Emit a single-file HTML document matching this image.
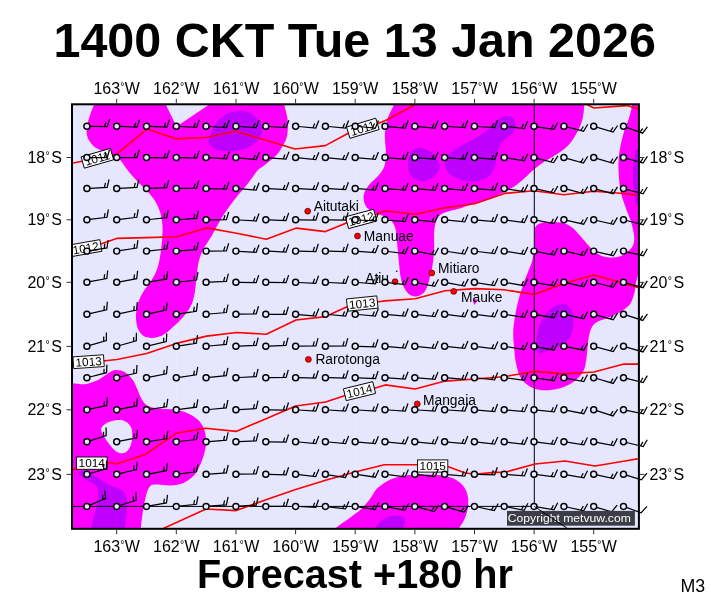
<!DOCTYPE html>
<html lang="en"><head><meta charset="utf-8"><title>1400 CKT Tue 13 Jan 2026 - Forecast +180 hr</title>
<style>html,body{margin:0;padding:0;background:#fff}body{width:711px;height:600px;overflow:hidden}svg{display:block}text{font-family:"Liberation Sans",Arial,Helvetica,sans-serif;fill:#000}.t{font-weight:bold}.ax{font-size:16px}.is{font-size:13.8px}.cl{font-size:11.8px}</style></head><body>
<svg width="711" height="600" viewBox="0 0 711 600">
<rect width="711" height="600" fill="#fff"/>
<defs><clipPath id="c"><rect x="72" y="104.3" width="566.9" height="424.5"/></clipPath></defs>
<text class="t" x="354.7" y="57" font-size="48.8" text-anchor="middle" textLength="602.5" lengthAdjust="spacingAndGlyphs">1400 CKT Tue 13 Jan 2026</text>
<text class="t" x="354.9" y="587.6" font-size="39.8" text-anchor="middle" textLength="316" lengthAdjust="spacingAndGlyphs">Forecast +180 hr</text>
<text x="680.5" y="591.7" font-size="17.8">M3</text>
<g clip-path="url(#c)">
<rect x="72" y="104.3" width="566.9" height="424.5" fill="#e6e6ff"/>
<path d="M176.3 104.3V528.8" stroke="#efefff" stroke-width="0.7"/>
<path d="M355.2 104.3V528.8" stroke="#efefff" stroke-width="0.7"/>
<path d="M94.8 100L165.6 100L165.9 104.8L176.5 126.5L208.9 104.8L209.2 100L284.4 100C284.4 100 283.8 101.7 284.4 105C284.9 108.3 287.2 115 287.7 120C288.2 125 287.9 130.9 287.2 135C286.5 139.1 285.2 141.5 283.4 144.8C281.6 148.1 279.7 151.6 276.6 155C273.5 158.4 268 162.3 264.8 165C261.6 167.7 260.3 167.5 257.2 171C254.1 174.5 249.5 181.5 246.1 185.8C242.7 190.1 239.8 192.9 236.6 196.9C233.4 200.9 230.1 205.4 227.2 209.6C224.3 213.8 221.8 217.7 219.2 222.2C216.5 226.7 213.9 232 211.3 236.5C208.7 241 205.5 244.9 203.4 249.1C201.3 253.3 199.8 257.1 198.7 261.8C197.5 266.6 197.2 272.3 196.5 277.6C195.8 282.9 195.5 288.6 194.6 293.4C193.7 298.1 192.8 302.1 190.8 306.1C188.9 310.1 185.8 313.8 182.9 317.2C180 320.6 176.6 323.7 173.4 326.6C170.2 329.5 167.1 332.8 163.9 334.6C160.7 336.5 157.6 337.3 154.4 337.7C151.2 338.1 147.6 338.1 144.9 336.8C142.2 335.5 140 332.8 138.5 329.8C137 326.8 136.2 322.9 136 318.7C135.8 314.5 136.4 309 137.6 304.5C138.8 300 141 295.8 143.3 291.8C145.6 287.9 148.8 284.8 151.2 280.8C153.6 276.9 155.9 272.9 157.5 268.1C159.1 263.4 159.9 257.6 160.7 252.3C161.5 247 162 241.2 162.3 236.5C162.6 231.8 162.7 228 162.3 223.8C161.9 219.6 161 215.1 159.7 211.1C158.4 207.1 156.6 203.4 154.4 200C152.2 196.6 149.4 193.8 146.5 190.6C143.6 187.4 140.2 184.4 137 181C133.8 177.6 130.2 173.3 127.5 170C124.8 166.7 122.8 163.1 121 161C119.2 158.9 118.7 158.8 116.5 157.5C114.3 156.2 111 154.9 108 153.5C105 152.1 100.8 150.5 98.5 149.3C96.2 148.1 95.4 147.7 94 146.5C92.6 145.3 91.2 143.7 90.1 142C89 140.3 87.9 138.7 87.3 136.4C86.7 134.2 86.4 131.7 86.7 128.5C87 125.3 88 121.4 89.3 117.3C90.5 113.2 93.3 106.9 94.2 104C95.1 101.1 94.8 100 94.8 100Z" fill="#ff00ff"/>
<path d="M66 383.2C66 383.2 69.5 383 72.7 383.2C75.9 383.4 81.1 384.7 85.3 384.2C89.5 383.7 94.3 381.8 98 380C101.7 378.2 104.6 375.4 107.5 373.7C110.4 372 112.5 370.2 115.4 370C118.3 369.8 122 370.5 124.9 372.2C127.8 373.9 130.7 377.1 132.8 380C134.9 382.9 136 386.4 137.5 389.6C139 392.8 140 396.4 141.6 399C143.2 401.6 144.2 403.8 147 405.4C149.8 407 153.6 407.8 158.1 408.5C162.6 409.2 169.2 408.8 173.9 409.5C178.7 410.2 182.6 411 186.6 412.7C190.6 414.4 194.8 416.9 197.7 419.6C200.6 422.3 202.6 425.4 204 429.1C205.4 432.8 206.2 437.6 206.2 441.8C206.2 446 205.2 450.2 204 454.4C202.8 458.6 201 463.4 199.2 467.1C197.3 470.8 195.5 474 192.9 476.6C190.3 479.2 187.1 481.4 183.4 482.9C179.7 484.4 175 485.1 170.8 485.4C166.6 485.7 161.5 484.4 158.1 484.5C154.7 484.6 152.2 484.2 150.2 486.1C148.2 488 147.3 491.4 146.1 495.6C144.9 499.8 143.8 505.9 142.9 511.4C142 516.9 141.1 525 140.7 528.8C140.3 532.6 140.5 534 140.5 534L66 534L66 383.2Z" fill="#ff00ff"/>
<path d="M393.8 100C393.8 100 394.9 101.5 393.8 104.7C392.8 107.9 389 114 387.5 119C386 124 385.2 129 384.9 134.8C384.6 140.6 386 148.5 385.9 153.8C385.8 159.1 385.6 162.8 384.3 166.5C383 170.2 380.6 172.8 378 176C375.4 179.2 370.9 182.2 368.5 185.4C366.1 188.6 364.3 191.8 363.7 195C363.1 198.2 364 202 365 204.5C366 207 367.7 208.5 369.5 210C371.3 211.5 373.4 212.4 376 213.5C378.6 214.6 382.5 215.3 385 216.5C387.5 217.7 389.4 218.9 391 220.5C392.6 222.1 393.6 223.8 394.5 226C395.4 228.2 395.8 229.9 396.3 233.8C396.8 237.7 397.2 244.3 397.7 249.6C398.2 254.9 398.7 260.6 399.2 265.4C399.7 270.1 400 274.4 400.8 278.1C401.6 281.8 402.7 285 404 287.6C405.3 290.2 406.8 292.4 408.7 293.9C410.6 295.4 413 296.4 415.1 296.5C417.2 296.6 419.6 295.8 421.4 294.6C423.2 293.4 424.8 291.7 426.1 289.2C427.4 286.7 428.2 283.7 429.3 279.7C430.4 275.7 431.7 270.4 432.5 265.4C433.3 260.4 433.8 254.9 434.1 249.6C434.4 244.3 433.9 238.3 434.1 233.8C434.4 229.3 434.6 225.9 435.6 222.7C436.7 219.5 438 216.8 440.4 214.8C442.8 212.9 446.6 212.1 449.9 211C453.2 209.9 457.2 209.3 460 208.5C462.8 207.7 462.9 207.2 466.6 206C470.3 204.8 477.1 203.2 482.4 201.3C487.7 199.5 493.4 197 498.2 194.9C502.9 192.8 506.9 191 510.9 188.6C514.9 186.2 518.6 183.3 522 180.5C525.4 177.7 528.2 174.5 531 172C533.8 169.5 536.3 167.5 539 165.5C541.7 163.5 543.9 162 547 160.1C550.1 158.2 553.8 156.4 557.5 153.8C561.2 151.2 566 148 569.3 144.3C572.6 140.6 575.3 135.8 577.5 131.6C579.7 127.4 581.4 123.5 582.5 119C583.6 114.5 584.1 107.9 584.4 104.7C584.7 101.5 584.4 100 584.4 100L393.8 100Z" fill="#ff00ff"/>
<path d="M631.9 100C631.9 100 632.4 103.1 631.9 106.3C631.4 109.5 630 114.8 628.7 119C627.4 123.2 625.6 125.8 624 131.6C622.4 137.4 620.1 146.9 619.2 153.8C618.3 160.7 618.3 166.5 618.6 172.8C618.9 179.1 619.6 186 620.8 191.8C622 197.6 623.9 202.4 625.6 207.6C627.4 212.8 629.9 218.1 631.3 222.7C632.7 227.3 633.6 231.8 634 235.3C634.4 238.8 634.2 241.5 633.5 243.9C632.8 246.3 631.5 248 629.8 249.8C628 251.6 625.7 253.6 623 254.9C620.3 256.2 617 257.1 613.8 257.4C610.6 257.7 606.4 257.2 603.6 256.5C600.8 255.8 599.1 254.7 596.9 253.2C594.6 251.7 592.2 249.4 590.1 247.3C588 245.2 586.2 242.8 584.2 240.5C582.2 238.2 580.3 235.9 578.3 233.8C576.3 231.7 574.6 229.5 572.4 227.8C570.1 226.1 567.8 224.6 564.8 223.6C561.8 222.6 558.1 222.1 554.7 221.9C551.3 221.7 547.4 221.9 544.6 222.3C541.8 222.7 539.5 223.5 537.8 224.5C536.1 225.5 534.6 228.5 534.6 228.5C534.6 228.5 534.6 233.2 534.5 236C534.4 238.8 534.6 240.9 534.2 245C533.8 249.1 533.3 255.9 532.2 260.6C531.1 265.3 529.1 269.1 527.5 273.3C525.9 277.5 524.3 281.1 522.7 285.9C521.1 290.6 519.3 296.5 518 301.8C516.7 307.1 515.6 312.3 514.8 317.6C514 322.9 513.3 328.1 513.2 333.4C513.1 338.7 513.7 343.9 514.2 349.2C514.7 354.5 515.2 360.2 516.4 365.1C517.5 370 518.7 374.9 521.1 378.5C523.5 382.1 526.9 385 530.6 387C534.3 389 538.5 390.1 543.3 390.3C548 390.6 554.5 389.6 559.1 388.5C563.7 387.4 567.6 385.5 571 383.5C574.4 381.5 577.3 378.9 579.5 376.5C581.7 374.1 583.1 372.2 584.3 369C585.5 365.8 586 361.5 586.6 357.5C587.2 353.5 587.4 348.8 587.8 345C588.2 341.2 588.5 338 589.2 335C589.9 332 590.7 329.2 592 327C593.3 324.8 594.2 323.6 597 322C599.8 320.4 604.9 319.3 609 317.5C613.1 315.7 618 313.6 621.5 311.3C625 309 628.1 307 630.3 303.8C632.5 300.6 633.6 295.5 634.6 292C635.6 288.5 635.4 285.8 636 283C636.6 280.2 638 275.5 638 275.5L645 275.5L645 100L631.9 100Z" fill="#ff00ff"/>
<path d="M335.8 534C335.8 534 333.7 530.8 335.8 528.2C337.9 525.7 344.3 521.9 348.5 518.7C352.7 515.5 357.4 512.6 361.1 509.2C364.8 505.8 368 501.5 370.6 498.1C373.2 494.7 374.1 491.5 377 488.6C379.9 485.7 383.8 482.8 388 480.7C392.2 478.6 396.8 476.9 402.3 475.9C407.9 474.8 415 474.5 421.3 474.4C427.6 474.3 434.8 474.5 440.3 475.3C445.8 476.1 450.6 477.2 454.5 479.1C458.4 481.1 461.7 483.8 464 487C466.3 490.2 467.6 494.1 468.1 498.1C468.6 502.1 467.9 507.1 467.2 510.8C466.5 514.5 465.3 517.4 464 520.3C462.7 523.2 460 525.9 459.2 528.2C458.4 530.5 459 534 459 534L335.8 534Z" fill="#ff00ff"/>
<path d="M101.1 429.1C101.4 426.8 103.5 424.9 105.9 423.4C108.3 421.9 112.2 420.7 115.4 420.3C118.6 419.9 122.3 420 124.9 421.2C127.5 422.4 130 424.9 131.2 427.5C132.4 430.1 132.3 433.8 132.2 437C132 440.2 131.5 443.9 130.3 446.5C129.1 449.1 127.1 451.9 124.9 452.8C122.7 453.7 119.5 453.2 117 451.9C114.5 450.6 112.1 447.4 110 444.9C107.9 442.4 105.8 439.6 104.3 437C102.8 434.4 100.8 431.4 101.1 429.1Z" fill="#e6e6ff"/>
<path d="M472.9 299.3H476.8L476.4 302L474.7 305L473.1 302Z" fill="#ff00ff"/>
<path d="M208.7 140.6C209 138.5 210.1 135.2 211.5 132.1C212.9 129 214.5 125.3 217.1 122.3C219.7 119.2 223 115.7 227 113.8C231 111.9 237.2 111.1 241 111C244.8 110.9 247.4 111.8 250 113C252.6 114.2 254.7 116.2 256.5 118C258.3 119.8 260.1 122.1 261 124C261.9 125.9 262.1 127.5 262.1 129.3C262.1 131.1 261.7 133.1 261 135C260.3 136.9 259.6 138.8 257.9 140.6C256.2 142.4 253.3 144.6 251 146C248.7 147.4 246.6 148.2 243.8 149C241 149.8 237.3 150.7 234 151C230.7 151.3 226.9 151.3 224.1 151.1C221.3 150.9 218.9 150.6 217 150C215.1 149.4 214.1 148.5 212.9 147.6C211.7 146.7 210.5 145.7 209.8 144.5C209.1 143.3 208.4 142.7 208.7 140.6Z" fill="#bf00ff"/>
<path d="M79.4 471.3C80.6 470.6 84.5 469.9 86.9 470.6C89.3 471.3 91.5 473.8 93.8 475.3C96.1 476.8 97.7 477.8 100.5 479.5C103.3 481.2 106.9 483.6 110.6 485.4C114.3 487.2 119.8 488.2 122.5 490.5C125.2 492.8 126 495 126.7 498.9C127.4 502.8 127 509.3 126.7 514.1C126.4 518.9 125.3 524.3 125 527.6C124.7 530.9 125 534 125 534L91 534C91 534 90.6 530.9 91.2 527.6C91.8 524.3 93.5 519.1 94.6 514.1C95.7 509.1 97.7 501.9 98 497.3C98.3 492.7 98.4 489.3 96.3 486.3C94.2 483.3 88 481.4 85.3 479.5C82.6 477.6 81 476.4 80 475C79 473.6 78.2 472 79.4 471.3Z" fill="#bf00ff"/>
<path d="M408 161.7C408.3 158.4 409.3 154.6 411.2 152.2C413.1 149.8 416.2 147.8 419.1 147.5C422 147.2 425.7 148.8 428.6 150.6C431.5 152.4 434.6 155.8 436.5 158.5C438.4 161.2 439.9 163.7 439.7 166.5C439.5 169.3 437.6 173 435.2 175.4C432.8 177.8 428.7 180.3 425.4 181C422.1 181.7 418.2 181 415.5 179.5C412.8 178 410.6 175.2 409.3 172.2C408.1 169.2 407.7 165 408 161.7Z" fill="#bf00ff"/>
<path d="M444.4 161.7C445 159.2 446.5 156.4 449.2 153.8C451.9 151.2 456.4 148.3 460.3 145.9C464.2 143.5 468.7 142 472.9 139.6C477.1 137.2 481.9 134.5 485.6 131.6C489.3 128.7 492.2 124.7 495.1 122.2C498 119.7 500.1 117.3 503 116.5C505.9 115.7 510.4 115.9 512.5 117.4C514.6 118.9 515.7 122.7 515.7 125.3C515.7 127.9 514.6 130.6 512.5 133.2C510.4 135.8 505.4 138.2 503 141.1C500.6 144 499.5 146.7 498.2 150.6C496.9 154.5 496.8 160.1 495.3 164.3C493.8 168.5 492.4 173.1 489.2 176C486 178.9 480.7 180.8 476.1 181.5C471.5 182.2 466.1 181.2 461.8 180C457.5 178.8 453 176.4 450.3 174.5C447.6 172.6 446.7 170.6 445.7 168.5C444.7 166.4 443.8 164.1 444.4 161.7Z" fill="#bf00ff"/>
<path d="M645 150C645 150 638.2 149.4 636.5 150C634.8 150.6 635.6 150 635 153.8C634.4 157.6 632.9 166.5 632.8 172.8C632.6 179.1 633.5 186.5 634.1 191.8C634.7 197.1 634.8 202 636.6 204.4C638.4 206.8 645 206 645 206L645 150Z" fill="#bf00ff"/>
<path d="M537 336.6C537.6 333.4 538.3 328.1 540.1 323.9C541.9 319.7 545.1 314.5 548 311.3C550.9 308.1 554.3 306 557.5 304.9C560.7 303.8 564.5 303.6 567 304.9C569.5 306.2 571.3 309.6 572.4 312.8C573.5 316 573.8 319.9 573.4 323.9C573 327.9 572.1 333.2 570.2 336.6C568.4 340 565.5 342.4 562.3 344.5C559.1 346.6 554.6 347.8 551.2 349.2C547.8 350.6 544.1 352.7 541.7 353C539.3 353.3 537.9 352.5 537 350.8C536.1 349.1 536.3 345.3 536.3 342.9C536.3 340.5 536.4 339.8 537 336.6Z" fill="#bf00ff"/>
<path d="M375.4 534C375.4 534 374.6 530.2 375.4 528.2C376.2 526.2 378 523.6 380.1 521.8C382.2 519.9 385.1 518.1 388 517.1C390.9 516.1 394.9 515.4 397.5 515.5C400.1 515.6 402.7 516.4 403.9 517.7C405.1 519 405 521.6 404.8 523.4C404.6 525.1 403.2 526.4 402.9 528.2C402.6 530 402.9 534 402.9 534L375.4 534Z" fill="#bf00ff"/>
<path d="M534.3 104.3V506.4" stroke="#000" stroke-width="1" fill="none"/>
<path d="M72 506.4H534.3" stroke="#000" stroke-width="1"/>
<path d="M71.5 163.4L116.5 154.4L146.9 129.1L176.4 138.9L206 137.5L235.5 131.3L265 140L295 149L325.3 145.6L347.3 133.8L378 123.6L386.1 120.3L414.8 104.7L416 103" fill="none" stroke="#ff0000" stroke-width="1.6" stroke-linejoin="round"/>
<path d="M584.5 103.3L594 108L626.5 105.6L640 109.2" fill="none" stroke="#ff0000" stroke-width="1.6" stroke-linejoin="round"/>
<path d="M71.5 251.5L101.5 243.8L116.6 238.4L146.5 237.6L176.5 236.8L206.6 227.9L236.6 233.3L266.3 239.2L296.4 228.1L325.5 231.6L347 222.7L374.6 214.8L385 211L415.1 214.2L445.1 207.8L474.5 203.8L504.6 193.4L533.8 190.8L563.9 194.8L593.9 191.3L624 193.5L639 195.8" fill="none" stroke="#ff0000" stroke-width="1.6" stroke-linejoin="round"/>
<path d="M71.5 363L102.7 361L117 359.5L146.5 353.5L176.5 343.4L206.6 336.1L236.6 332.5L266.3 334.3L296 320L325.6 316.6L347 306.8L378.4 301.8L385 300.9L415.1 298.7L445.1 290.8L475 288.6L503.7 289.7L534.4 294.5L563.9 283.4L593.9 274.9L624 283.4L639 287.8" fill="none" stroke="#ff0000" stroke-width="1.6" stroke-linejoin="round"/>
<path d="M71.5 470L106.8 462.3L116.3 463.9L145.4 454.4L176.5 433.2L205.6 428.2L236.1 431.4L266 418.7L295.7 406L325.6 402L344.5 395.7L375.2 387.9L385.3 384.9L415.1 389L445.1 381.1L475 379L503.7 376.8L534.4 371.4L563.9 373.9L593.9 372L624 364.1L639 364.1" fill="none" stroke="#ff0000" stroke-width="1.6" stroke-linejoin="round"/>
<path d="M160 530L206 509L236.1 510.6L266 499.7L295.7 489.5L325.6 480.3L355 472L384.4 464.7L417.7 464.7L447.7 466.4L464.6 472.7L474.4 474.3L494.1 472.4L505.1 472.2L535 464L565 461L595 466L625 461L639 458.6" fill="none" stroke="#ff0000" stroke-width="1.6" stroke-linejoin="round"/>
</g>
<circle cx="307.7" cy="211.2" r="2.95" fill="#ff0000" stroke="#400" stroke-width="0.7"/>
<text class="is" x="313.7" y="210.8">Aitutaki</text>
<circle cx="357.5" cy="236" r="2.95" fill="#ff0000" stroke="#400" stroke-width="0.7"/>
<text class="is" x="363.8" y="240.8">Manuae</text>
<circle cx="395.1" cy="281.7" r="2.95" fill="#ff0000" stroke="#400" stroke-width="0.7"/>
<text class="is" x="365.2" y="282.5">Atiu</text>
<circle cx="431.8" cy="273" r="2.95" fill="#ff0000" stroke="#400" stroke-width="0.7"/>
<text class="is" x="438.1" y="273">Mitiaro</text>
<circle cx="453.7" cy="291.4" r="2.95" fill="#ff0000" stroke="#400" stroke-width="0.7"/>
<text class="is" x="461" y="301.7">Mauke</text>
<circle cx="308.4" cy="359.4" r="2.95" fill="#ff0000" stroke="#400" stroke-width="0.7"/>
<text class="is" x="315.4" y="363.5">Rarotonga</text>
<circle cx="417.3" cy="403.9" r="2.95" fill="#ff0000" stroke="#400" stroke-width="0.7"/>
<text class="is" x="423" y="404.5">Mangaia</text>
<circle cx="396.7" cy="271.2" r="0.8" fill="#000"/>
<g clip-path="url(#c)">
<g transform="translate(97.3 158.3) rotate(-16)"><rect x="-15.2" y="-5.9" width="30.5" height="11.8" fill="#fff" stroke="#000" stroke-width="0.9"/><text class="cl" x="0" y="4.2" text-anchor="middle">1011</text></g>
<g transform="translate(362.8 128.3) rotate(-16.8)"><rect x="-15.2" y="-5.9" width="30.5" height="11.8" fill="#fff" stroke="#000" stroke-width="0.9"/><text class="cl" x="0" y="4.2" text-anchor="middle">1011</text></g>
<g transform="translate(85.8 248.1) rotate(-10)"><rect x="-15.2" y="-5.9" width="30.5" height="11.8" fill="#fff" stroke="#000" stroke-width="0.9"/><text class="cl" x="0" y="4.2" text-anchor="middle">1012</text></g>
<g transform="translate(361.1 218.9) rotate(-15)"><rect x="-14.6" y="-6.1" width="29.2" height="12.2" fill="#fff" stroke="#000" stroke-width="0.9"/><text class="cl" x="0" y="4.2" text-anchor="middle">1012</text></g>
<g transform="translate(88.6 361.7) rotate(-4)"><rect x="-15.3" y="-5.9" width="30.6" height="11.8" fill="#fff" stroke="#000" stroke-width="0.9"/><text class="cl" x="0" y="4.2" text-anchor="middle">1013</text></g>
<g transform="translate(362.2 303.6) rotate(-5.8)"><rect x="-15.2" y="-6.2" width="30.5" height="12.3" fill="#fff" stroke="#000" stroke-width="0.9"/><text class="cl" x="0" y="4.2" text-anchor="middle">1013</text></g>
<g transform="translate(91.7 463.2) rotate(0)"><rect x="-15.3" y="-6.2" width="30.7" height="12.3" fill="#fff" stroke="#000" stroke-width="0.9"/><text class="cl" x="0" y="4.2" text-anchor="middle">1014</text></g>
<g transform="translate(359.5 391.1) rotate(-13.8)"><rect x="-15.1" y="-6" width="30.2" height="12.1" fill="#fff" stroke="#000" stroke-width="0.9"/><text class="cl" x="0" y="4.2" text-anchor="middle">1014</text></g>
<g transform="translate(432.7 466) rotate(0)"><rect x="-15.1" y="-6.1" width="30.2" height="12.2" fill="#fff" stroke="#000" stroke-width="0.9"/><text class="cl" x="0" y="4.2" text-anchor="middle">1015</text></g>
</g>
<path d="M89.9 126.4L107.2 126.7L109.7 119.1M104.4 126.7L105.9 122.2M119.7 126.4L137 127.2L139.6 119.6M134.2 127L135.8 122.6M149.5 126.4L166.8 127.2L169.5 119.6M164 127.1L165.6 122.6M179.3 126.5L196.6 127.4L199.3 119.8M193.8 127.2L195.4 122.8M209.1 126.5L226.4 127.5L229.2 120M223.6 127.3L225.2 122.9M238.9 126.5L256.2 127.6L259 120.2M253.4 127.5L255.1 123.1M268.8 126.5L286 127.6L288.9 120.2M283.2 127.5L284.9 123.1M298.6 126.5L315.8 128L318.8 120.5M313 127.7L314.7 123.4M328.4 126.5L345.6 128L348.6 120.5M342.8 127.7L344.6 123.4M358.2 126.5L375.4 128L378.4 120.6M372.6 127.7L374.4 123.4M388 126.6L405.2 128L408.2 120.6M402.4 127.8L404.2 123.4M417.8 126.6L435 128L438 120.6M432.2 127.8L434 123.4M447.6 126.5L464.9 127.6L467.7 120.2M462.1 127.5L463.8 123.1M477.4 126.5L494.7 127.7L497.5 120.2M491.9 127.5L493.6 123.1M507.2 126.6L524.4 128.6L527.6 121.2M521.6 128.3L523.5 123.9M537 126.8L554.1 129.4L557.6 122.2M551.3 129L553.4 124.7M566.8 127L583.6 131.2L587.7 124.3M580.8 130.5L583.3 126.5M596.5 127.2L613.1 132.1L617.6 125.5M610.4 131.3L613 127.4M626.3 127.3L642.6 133.2L647.4 126.9M639.9 132.3L642.8 128.5M89.9 157.5L107.2 157.5L109.5 149.8M104.4 157.5L105.8 153M119.7 157.5L137 157.5L139.3 149.8M134.2 157.5L135.6 153M149.5 157.6L166.8 157.9L169.3 150.2M164 157.8L165.5 153.3M179.3 157.6L196.6 158.2L199.2 150.6M193.8 158.1L195.3 153.7M209.1 157.7L226.4 158.9L229.3 151.4M223.6 158.7L225.3 154.3M238.9 157.8L256.1 159.6L259.3 152.3M253.4 159.3L255.2 155M268.7 157.8L286 159.2L289 151.8M283.2 159L284.9 154.6M298.6 157.8L315.8 159.6L318.9 152.3M313 159.3L314.8 155M328.4 157.8L345.6 159.6L348.7 152.3M342.8 159.3L344.6 155M358.2 157.8L375.4 159.4L378.4 152M372.6 159.1L374.4 154.8M388 157.8L405.2 159.2L408.2 151.8M402.4 159L404.2 154.6M417.8 157.8L435 159.2L438 151.8M432.2 159L434 154.6M447.6 157.8L464.8 159.2L467.8 151.8M462.1 159L463.8 154.6M477.4 157.8L494.7 159.3L497.6 151.9M491.9 159L493.6 154.7M507.2 158L524.2 160.9L527.8 153.8M521.5 160.5L523.6 156.3M537 158.3L553.7 162.6L557.9 155.8M551 161.9L553.4 157.9M566.7 158.3L583.4 163L587.7 156.3M580.7 162.3L583.2 158.3M596.5 158.4L613.1 163.3L617.6 156.7M610.4 162.5L613 158.6M626.4 158.3L643 163.1L647.4 156.4M640.3 162.3L642.9 158.4M89.9 188.3L107.2 187.3L109 179.5M104.4 187.4L105.5 182.9M119.7 188.3L137 187.3L138.8 179.5M134.2 187.4L135.3 182.9M149.5 188.4L166.8 187.6L168.8 179.9M164 187.7L165.2 183.2M179.3 188.4L196.6 188.1L198.8 180.5M193.8 188.2L195.1 183.7M209.1 188.6L226.4 189.1L229 181.6M223.6 189.1L225.1 184.6M238.9 188.7L256.2 190.1L259.1 182.7M253.4 189.9L255.1 185.6M268.8 188.7L286 189.7L288.8 182.2M283.2 189.5L284.9 185.1M298.6 188.7L315.8 189.7L318.6 182.2M313 189.6L314.7 185.2M328.4 188.7L345.6 189.7L348.4 182.2M342.8 189.6L344.5 185.2M358.2 188.7L375.4 190L378.3 182.5M372.6 189.8L374.3 185.4M388 188.8L405.2 190.2L408.2 182.8M402.4 190L404.2 185.6M417.8 188.8L435 190.4L438.1 183M432.2 190.1L434 185.8M447.6 188.8L464.8 190.4L467.9 183M462 190.1L463.8 185.8M477.4 188.8L494.7 190.2L497.6 182.8M491.9 190L493.6 185.6M507.2 189L524.3 191.6L527.8 184.4M521.5 191.2L523.6 186.9M537 189.2L553.9 192.9L557.8 186M551.1 192.3L553.5 188.2M566.8 189.2L583.5 193.5L587.7 186.6M580.8 192.8L583.3 188.8M596.6 189.3L613.3 193.7L617.5 186.9M610.6 193L613.1 189M626.4 189.3L643.1 193.8L647.3 187M640.4 193L642.9 189M89.9 219.4L107 217.3L108.4 209.4M104.3 217.7L105.1 213M119.7 219.4L136.9 217.3L138.2 209.4M134.1 217.7L134.9 213M149.5 219.5L166.7 217.7L168.2 209.8M163.9 218L164.8 213.4M179.3 219.6L196.6 218.4L198.4 210.6M193.8 218.6L194.8 214M209.1 219.8L226.4 219.7L228.7 212M223.6 219.7L225 215.2M238.9 220L256.2 221L259 213.5M253.4 220.8L255.1 216.4M268.8 219.9L286 220.5L288.7 212.9M283.2 220.4L284.8 216M298.6 219.9L315.9 220.2L318.3 212.5M313.1 220.1L314.5 215.6M328.4 219.9L345.7 220.2L348.1 212.5M342.9 220.1L344.3 215.6M358.2 220L375.5 220.8L378.2 213.3M372.7 220.7L374.3 216.3M388 220.1L405.2 221.5L408.2 214.1M402.4 221.3L404.2 216.9M417.8 220.1L435 221.9L438.1 214.5M432.2 221.6L434 217.2M447.6 220.1L464.8 221.9L467.9 214.5M462 221.6L463.9 217.2M477.4 220.1L494.7 221.5L497.6 214.1M491.9 221.3L493.6 216.9M507.2 220.2L524.4 222.5L527.7 215.3M521.6 222.2L523.5 217.9M537 220.4L554 223.6L557.7 216.5M551.2 223L553.4 218.9M566.8 220.4L583.7 224.2L587.6 217.2M580.9 223.6L583.3 219.5M596.6 220.5L613.4 224.4L617.4 217.4M610.7 223.7L613.1 219.7M626.4 220.5L643.2 224.7L647.3 217.9M640.5 224L642.9 220M89.9 250.6L107 247.9L108.1 240M104.2 248.4L104.8 243.7M119.7 250.6L136.8 248L137.9 240.1M134 248.5L134.7 243.8M149.5 250.8L166.7 249L168.2 241.1M163.9 249.3L164.8 244.7M179.3 250.9L196.6 249.7L198.4 241.9M193.8 249.9L194.8 245.3M209.1 251.1L226.4 251L228.7 243.3M223.6 251L225 246.5M238.9 251.3L256.2 252.3L259 244.8M253.4 252.1L255.1 247.7M268.8 251.2L286 252L288.7 244.4M283.2 251.8L284.8 247.4M298.6 251.2L315.9 251.5L318.3 243.8M313.1 251.4L314.5 246.9M328.4 251.2L345.7 251.5L348.1 243.8M342.9 251.4L344.3 246.9M358.2 251.3L375.4 252.5L378.3 245.1M372.6 252.3L374.3 247.9M388 251.5L405.1 253.6L408.4 246.3M402.4 253.3L404.3 249M417.8 251.6L434.8 254.8L438.5 247.7M432 254.3L434.2 250.1M447.6 251.5L464.7 254L468.1 246.8M461.9 253.6L463.9 249.3M477.4 251.5L494.6 253.6L497.8 246.3M491.8 253.2L493.7 248.9M507.2 251.6L524.3 254.3L527.8 247.1M521.5 253.8L523.6 249.6M537 251.7L554 255L557.7 247.9M551.2 254.4L553.4 250.3M566.8 251.7L583.7 255.5L587.6 248.5M580.9 254.9L583.3 250.8M596.6 251.8L613.4 255.7L617.4 248.7M610.7 255L613.1 251M626.4 251.8L643.3 255.7L647.3 248.7M640.5 255L642.9 251M89.8 281.7L106.8 278.5L107.7 270.5M104.1 279L104.6 274.3M119.7 281.8L136.7 278.7L137.6 270.7M133.9 279.2L134.5 274.5M149.5 281.8L166.6 279.1L167.7 271.2M163.8 279.6L164.5 274.9M179.3 282L196.5 280L198 272.1M193.7 280.3L194.6 275.7M209.1 282.2L226.4 281.3L228.4 273.6M223.6 281.5L224.8 276.9M238.9 282.4L256.2 282.7L258.7 275.1M253.4 282.6L254.9 278.2M268.8 282.4L286.1 282.7L288.6 275.1M283.3 282.7L284.7 278.2M298.6 282.5L315.8 283.3L318.6 275.8M313 283.2L314.6 278.8M328.4 282.5L345.7 283.3L348.4 275.8M342.9 283.2L344.5 278.8M358.2 282.5L375.4 283.9L378.4 276.5M372.6 283.7L374.4 279.3M388 282.6L405.2 284.5L408.3 277.2M402.4 284.2L404.3 279.9M417.8 282.9L434.7 286.3L438.5 279.2M432 285.7L434.2 281.6M447.6 282.9L464.6 286L468.3 278.9M461.8 285.5L464 281.4M477.4 282.8L494.5 285.5L498 278.3M491.7 285L493.8 280.8M507.2 282.8L524.3 285.7L527.8 278.6M521.5 285.2L523.6 281M537 282.8L554 285.9L557.7 278.8M551.3 285.4L553.4 281.3M566.8 282.9L583.7 286.7L587.6 279.7M580.9 286.1L583.3 282M596.6 283L613.3 287.3L617.5 280.5M610.6 286.7L613.1 282.6M626.4 283.1L643.1 287.7L647.3 280.9M640.4 286.9L642.9 282.9M89.8 313.6L106.7 309.8L107.3 301.8M104 310.4L104.3 305.7M119.6 313.7L136.6 310.1L137.3 302.1M133.8 310.7L134.2 306M149.5 313.7L166.4 310.1L167.1 302.1M163.6 310.7L164 306M179.3 313.8L196.4 311.1L197.5 303.2M193.6 311.6L194.3 306.9M209.1 314L226.4 312.5L228 304.7M223.6 312.8L224.6 308.2M238.9 314.2L256.2 313.9L258.5 306.3M253.4 314L254.7 309.5M268.8 314.3L286.1 314.3L288.4 306.6M283.3 314.3L284.6 309.8M298.6 314.6L315.8 316L318.8 308.6M313 315.8L314.8 311.4M328.4 314.5L345.6 316L348.6 308.5M342.8 315.7L344.6 311.4M358.2 314.5L375.4 316L378.4 308.6M372.6 315.7L374.4 311.4M388 314.6L405.2 316L408.2 308.6M402.4 315.8L404.2 311.4M417.8 314.6L435 316.5L438.2 309.2M432.2 316.2L434.1 311.9M447.6 314.7L464.8 316.8L468 309.5M462 316.5L463.9 312.2M477.4 314.7L494.6 316.9L497.9 309.6M491.8 316.5L493.7 312.2M507.2 314.7L524.3 317.3L527.8 310.1M521.5 316.9L523.6 312.6M537 314.8L554.1 317.7L557.7 310.6M551.3 317.2L553.4 313M566.8 314.9L583.7 318.7L587.6 311.7M580.9 318.1L583.3 314M596.6 315.1L613.2 319.8L617.5 313.1M610.5 319.1L613.1 315.1M626.3 315.2L642.8 320.4L647.4 313.9M640.2 319.6L642.8 315.7M89.8 345.4L106.4 340.5L106.4 332.5M103.7 341.3L103.7 336.6M119.6 345.5L136.3 340.8L136.4 332.8M133.6 341.6L133.7 336.9M149.4 345.6L166.3 341.6L166.8 333.6M163.5 342.2L163.8 337.6M179.3 345.8L196.4 343.1L197.5 335.2M193.6 343.6L194.3 338.9M209.1 346L226.3 344.3L227.9 336.4M223.6 344.6L224.5 340M238.9 346.2L256.2 345.4L258.2 337.7M253.4 345.6L254.6 341M268.8 346.2L286 345.4L288.1 337.7M283.2 345.6L284.4 341M298.6 346.2L315.9 345.8L318 338.1M313.1 345.8L314.3 341.3M328.4 346.2L345.7 345.8L347.8 338.1M342.9 345.9L344.1 341.3M358.2 346.4L375.5 346.9L378 339.3M372.7 346.8L374.2 342.4M388 346.6L405.2 348L408.2 340.6M402.4 347.8L404.2 343.4M417.8 346.6L435 348.4L438.1 341M432.2 348.1L434 343.7M447.6 346.6L464.8 348.4L467.9 341M462 348.1L463.9 343.7M477.4 346.7L494.6 348.9L497.9 341.6M491.8 348.5L493.7 344.2M507.2 346.8L524.3 349.5L527.8 342.3M521.5 349.1L523.6 344.9M537 346.9L554 350.2L557.7 343.1M551.2 349.6L553.4 345.5M566.8 346.9L583.8 350.2L587.5 343.1M581 349.6L583.2 345.5M596.6 347.1L613.3 351.6L617.5 344.8M610.6 350.8L613.1 346.8M626.4 347.1L643 351.9L647.4 345.2M640.3 351.1L642.9 347.2M89.8 377L106.6 372.7L106.9 364.7M103.9 373.3L104.1 368.7M119.6 377L136.5 373L137 365M133.7 373.7L134 369M149.5 377.1L166.5 373.8L167.3 365.9M163.7 374.4L164.2 369.7M179.3 377.3L196.4 374.8L197.7 366.9M193.7 375.2L194.4 370.6M209.1 377.4L226.3 375.7L227.9 367.9M223.6 376L224.5 371.4M238.9 377.5L256.2 376.6L258.1 368.8M253.4 376.8L254.6 372.2M268.8 377.7L286.1 377.5L288.3 369.8M283.3 377.5L284.6 373M298.6 377.7L315.9 378L318.3 370.4M313.1 378L314.5 373.5M328.4 377.7L345.7 378L348.1 370.4M342.9 378L344.3 373.5M358.2 377.8L375.5 378.6L378.1 371M372.7 378.5L374.2 374M388 377.9L405.2 379.1L408.1 371.7M402.5 378.9L404.1 374.5M417.8 377.9L435 379.3L438 371.9M432.3 379.1L434 374.7M447.6 377.9L464.9 379.3L467.8 371.9M462.1 379.1L463.8 374.7M477.4 378L494.6 379.8L497.7 372.5M491.8 379.5L493.7 375.2M507.2 378.1L524.4 380.3L527.7 373M521.6 379.9L523.5 375.6M537 378.1L554.1 380.7L557.6 373.4M551.4 380.3L553.4 376M566.8 378.3L583.8 381.6L587.5 374.5M581 381L583.2 376.9M596.6 378.5L613.2 383.4L617.5 376.7M610.5 382.6L613 378.7M626.4 378.4L643.2 382.5L647.3 375.6M640.5 381.8L642.9 377.8M89.8 409.2L106.7 405.5L107.4 397.5M104 406.1L104.4 401.4M119.7 409.2L136.6 405.9L137.5 398M133.9 406.5L134.4 401.8M149.5 409.4L166.6 406.8L167.8 398.9M163.8 407.2L164.5 402.6M179.3 409.4L196.5 407.2L197.8 399.3M193.7 407.6L194.5 402.9M209.1 409.5L226.3 407.8L227.9 400M223.6 408.1L224.5 403.5M238.9 409.6L256.2 408.5L258 400.7M253.4 408.6L254.5 404.1M268.8 409.9L286.1 410.2L288.5 402.5M283.3 410.1L284.7 405.6M298.6 410L315.8 411L318.6 403.5M313 410.8L314.7 406.4M328.4 410L345.6 411L348.4 403.5M342.9 410.8L344.5 406.4M358.2 410L375.5 411L378.2 403.5M372.7 410.8L374.3 406.4M388 410L405.3 411L408 403.5M402.5 410.8L404.1 406.4M417.8 410L435.1 411L437.9 403.5M432.3 410.8L433.9 406.4M447.6 410L464.9 411L467.7 403.5M462.1 410.8L463.7 406.4M477.4 410.1L494.7 411.5L497.6 404.1M491.9 411.3L493.6 406.9M507.2 410.1L524.5 411.7L527.5 404.3M521.7 411.4L523.4 407.1M537 410.1L554.2 411.9L557.3 404.5M551.5 411.6L553.3 407.2M566.8 410.4L583.8 413.7L587.5 406.6M581 413.1L583.2 409M596.5 410.7L613 415.9L617.6 409.3M610.4 415.1L613 411.2M626.4 410.4L643.4 413.8L647.2 406.7M640.6 413.2L642.9 409.1M89.8 440.9L106.2 435.6L106.1 427.6M103.6 436.5L103.5 431.8M119.7 441.2L136.6 437.9L137.5 430M133.9 438.5L134.4 433.8M149.5 441.4L166.6 438.8L167.8 430.9M163.8 439.2L164.5 434.6M179.3 441.5L196.5 439.5L198 431.7M193.7 439.8L194.6 435.2M209.1 441.6L226.4 440.2L228.1 432.4M223.6 440.5L224.6 435.9M238.9 441.7L256.2 440.9L258.2 433.2M253.4 441.1L254.6 436.5M268.8 441.9L286.1 442.2L288.5 434.5M283.3 442.1L284.7 437.6M298.6 442L315.8 443.5L318.8 436M313 443.2L314.7 438.9M328.4 442L345.6 443.5L348.6 436M342.8 443.2L344.6 438.9M358.2 442.1L375.4 443.6L378.4 436.2M372.6 443.4L374.4 439M388 442.1L405.2 443.8L408.3 436.4M402.4 443.5L404.2 439.2M417.8 442.1L435 443.9L438.1 436.5M432.2 443.6L434 439.2M447.6 442.1L464.8 443.5L467.8 436.1M462.1 443.3L463.8 438.9M477.4 442.2L494.6 444.2L497.8 436.9M491.8 443.9L493.7 439.6M507.2 442.2L524.4 444.3L527.6 436.9M521.6 443.9L523.5 439.6M537 442.2L554.2 444.3L557.5 437M551.4 444L553.3 439.7M566.8 442.2L583.9 444.8L587.4 437.6M581.2 444.4L583.2 440.2M596.6 442.4L613.6 445.5L617.3 438.4M610.9 445L613 440.9M626.4 442.5L643.2 446.6L647.3 439.8M640.5 446L642.9 441.9M89.8 473.5L106.4 468.7L106.6 460.7M103.7 469.5L103.8 464.8M119.6 473.6L136.5 469.6L137 461.6M133.7 470.2L134 465.6M149.5 473.8L166.5 470.7L167.4 462.7M163.7 471.2L164.3 466.5M179.3 473.9L196.5 471.8L197.9 463.9M193.7 472.2L194.5 467.5M209.1 474.1L226.4 472.8L228.2 465M223.6 473L224.6 468.4M238.9 474.2L256.2 473.8L258.4 466.1M253.4 473.9L254.7 469.3M268.8 474.4L286.1 474.8L288.6 467.2M283.3 474.8L284.7 470.3M298.6 474.6L315.7 476.5L318.9 469.2M313 476.2L314.8 471.9M328.3 474.8L345.4 477.6L349 470.4M342.6 477.2L344.7 472.9M358.2 474.7L375.3 477.2L378.7 470M372.5 476.8L374.5 472.6M388 474.7L405.1 476.9L408.4 469.6M402.4 476.5L404.3 472.2M417.8 474.6L435 476.5L438.2 469.2M432.2 476.2L434.1 471.9M447.6 474.6L464.8 476L467.8 468.6M462.1 475.8L463.8 471.4M477.4 474.4L494.7 474.8L497.3 467.2M491.9 474.8L493.4 470.3M507.2 474.5L524.5 475.9L527.4 468.4M521.7 475.6L523.4 471.3M537 474.7L554.2 476.9L557.5 469.6M551.4 476.5L553.3 472.2M566.8 474.8L583.9 477.8L587.5 470.7M581.1 477.3L583.2 473.2M596.6 474.9L613.5 478.6L617.4 471.6M610.8 478L613.1 473.9M626.3 475.2L641.4 479.9L647 473.1M89.7 505.2L105.6 498.5L104.8 490.5M103 499.6L102.5 494.9M119.6 505.5L136.1 500.3L136 492.3M133.4 501.1L133.3 496.4M149.5 505.9L166.5 502.9L167.5 494.9M163.8 503.4L164.3 498.7M179.3 506.1L196.5 504.3L198 496.4M193.7 504.6L194.6 500M209.1 506.2L226.4 504.8L228.1 496.9M223.6 505L224.6 500.4M238.9 506.2L256.2 505.2L258.1 497.5M253.4 505.4L254.5 500.8M268.8 506.4L286.1 506.4L288.4 498.7M283.3 506.4L284.6 501.9M298.6 506.5L315.9 507.3L318.5 499.7M313.1 507.1L314.6 502.7M328.4 506.8L345.5 508.9L348.8 501.6M342.7 508.5L344.7 504.2M358.2 506.9L375.2 509.6L378.8 502.4M372.5 509.2L374.5 505M387.9 507L404.9 510.4L408.7 503.3M402.2 509.8L404.4 505.7M417.7 507.2L434.4 511.6L438.7 504.8M431.7 510.9L434.2 506.9M447.5 507.3L464.1 512.2L468.5 505.6M461.4 511.4L464 507.5M477.4 507L494.3 510.6L498.2 503.6M491.5 510L493.8 505.9M507.2 507L524.2 510.3L527.9 503.2M521.4 509.7L523.6 505.6M537 506.9L554 509.9L557.7 502.8M551.3 509.4L553.4 505.3M566.8 507L583.7 510.8L587.6 503.8M580.9 510.2L583.3 506.1M596.5 507.3L611.6 511.9L617.2 505.1M626.3 507.4L641.1 512.8L647 506.3" fill="none" stroke="#000" stroke-width="1.25" stroke-linejoin="miter"/>
<g fill="#e8e8ff" stroke="#000" stroke-width="1.45">
<circle cx="86.9" cy="126.3" r="3"/>
<circle cx="116.7" cy="126.3" r="3"/>
<circle cx="146.5" cy="126.3" r="3"/>
<circle cx="176.3" cy="126.3" r="3"/>
<circle cx="206.1" cy="126.3" r="3"/>
<circle cx="235.9" cy="126.3" r="3"/>
<circle cx="265.8" cy="126.3" r="3"/>
<circle cx="295.6" cy="126.3" r="3"/>
<circle cx="325.4" cy="126.3" r="3"/>
<circle cx="355.2" cy="126.3" r="3"/>
<circle cx="385" cy="126.3" r="3"/>
<circle cx="414.8" cy="126.3" r="3"/>
<circle cx="444.6" cy="126.3" r="3"/>
<circle cx="474.4" cy="126.3" r="3"/>
<circle cx="504.2" cy="126.3" r="3"/>
<circle cx="534" cy="126.3" r="3"/>
<circle cx="563.9" cy="126.3" r="3"/>
<circle cx="593.7" cy="126.3" r="3"/>
<circle cx="623.5" cy="126.3" r="3"/>
<circle cx="86.9" cy="157.5" r="3"/>
<circle cx="116.7" cy="157.5" r="3"/>
<circle cx="146.5" cy="157.5" r="3"/>
<circle cx="176.3" cy="157.5" r="3"/>
<circle cx="206.1" cy="157.5" r="3"/>
<circle cx="235.9" cy="157.5" r="3"/>
<circle cx="265.8" cy="157.5" r="3"/>
<circle cx="295.6" cy="157.5" r="3"/>
<circle cx="325.4" cy="157.5" r="3"/>
<circle cx="355.2" cy="157.5" r="3"/>
<circle cx="385" cy="157.5" r="3"/>
<circle cx="414.8" cy="157.5" r="3"/>
<circle cx="444.6" cy="157.5" r="3"/>
<circle cx="474.4" cy="157.5" r="3"/>
<circle cx="504.2" cy="157.5" r="3"/>
<circle cx="534" cy="157.5" r="3"/>
<circle cx="563.9" cy="157.5" r="3"/>
<circle cx="593.7" cy="157.5" r="3"/>
<circle cx="623.5" cy="157.5" r="3"/>
<circle cx="86.9" cy="188.5" r="3"/>
<circle cx="116.7" cy="188.5" r="3"/>
<circle cx="146.5" cy="188.5" r="3"/>
<circle cx="176.3" cy="188.5" r="3"/>
<circle cx="206.1" cy="188.5" r="3"/>
<circle cx="235.9" cy="188.5" r="3"/>
<circle cx="265.8" cy="188.5" r="3"/>
<circle cx="295.6" cy="188.5" r="3"/>
<circle cx="325.4" cy="188.5" r="3"/>
<circle cx="355.2" cy="188.5" r="3"/>
<circle cx="385" cy="188.5" r="3"/>
<circle cx="414.8" cy="188.5" r="3"/>
<circle cx="444.6" cy="188.5" r="3"/>
<circle cx="474.4" cy="188.5" r="3"/>
<circle cx="504.2" cy="188.5" r="3"/>
<circle cx="534" cy="188.5" r="3"/>
<circle cx="563.9" cy="188.5" r="3"/>
<circle cx="593.7" cy="188.5" r="3"/>
<circle cx="623.5" cy="188.5" r="3"/>
<circle cx="86.9" cy="219.8" r="3"/>
<circle cx="116.7" cy="219.8" r="3"/>
<circle cx="146.5" cy="219.8" r="3"/>
<circle cx="176.3" cy="219.8" r="3"/>
<circle cx="206.1" cy="219.8" r="3"/>
<circle cx="235.9" cy="219.8" r="3"/>
<circle cx="265.8" cy="219.8" r="3"/>
<circle cx="295.6" cy="219.8" r="3"/>
<circle cx="325.4" cy="219.8" r="3"/>
<circle cx="355.2" cy="219.8" r="3"/>
<circle cx="385" cy="219.8" r="3"/>
<circle cx="414.8" cy="219.8" r="3"/>
<circle cx="444.6" cy="219.8" r="3"/>
<circle cx="474.4" cy="219.8" r="3"/>
<circle cx="504.2" cy="219.8" r="3"/>
<circle cx="534" cy="219.8" r="3"/>
<circle cx="563.9" cy="219.8" r="3"/>
<circle cx="593.7" cy="219.8" r="3"/>
<circle cx="623.5" cy="219.8" r="3"/>
<circle cx="86.9" cy="251.1" r="3"/>
<circle cx="116.7" cy="251.1" r="3"/>
<circle cx="146.5" cy="251.1" r="3"/>
<circle cx="176.3" cy="251.1" r="3"/>
<circle cx="206.1" cy="251.1" r="3"/>
<circle cx="235.9" cy="251.1" r="3"/>
<circle cx="265.8" cy="251.1" r="3"/>
<circle cx="295.6" cy="251.1" r="3"/>
<circle cx="325.4" cy="251.1" r="3"/>
<circle cx="355.2" cy="251.1" r="3"/>
<circle cx="385" cy="251.1" r="3"/>
<circle cx="414.8" cy="251.1" r="3"/>
<circle cx="444.6" cy="251.1" r="3"/>
<circle cx="474.4" cy="251.1" r="3"/>
<circle cx="504.2" cy="251.1" r="3"/>
<circle cx="534" cy="251.1" r="3"/>
<circle cx="563.9" cy="251.1" r="3"/>
<circle cx="593.7" cy="251.1" r="3"/>
<circle cx="623.5" cy="251.1" r="3"/>
<circle cx="86.9" cy="282.3" r="3"/>
<circle cx="116.7" cy="282.3" r="3"/>
<circle cx="146.5" cy="282.3" r="3"/>
<circle cx="176.3" cy="282.3" r="3"/>
<circle cx="206.1" cy="282.3" r="3"/>
<circle cx="235.9" cy="282.3" r="3"/>
<circle cx="265.8" cy="282.3" r="3"/>
<circle cx="295.6" cy="282.3" r="3"/>
<circle cx="325.4" cy="282.3" r="3"/>
<circle cx="355.2" cy="282.3" r="3"/>
<circle cx="385" cy="282.3" r="3"/>
<circle cx="414.8" cy="282.3" r="3"/>
<circle cx="444.6" cy="282.3" r="3"/>
<circle cx="474.4" cy="282.3" r="3"/>
<circle cx="504.2" cy="282.3" r="3"/>
<circle cx="534" cy="282.3" r="3"/>
<circle cx="563.9" cy="282.3" r="3"/>
<circle cx="593.7" cy="282.3" r="3"/>
<circle cx="623.5" cy="282.3" r="3"/>
<circle cx="86.9" cy="314.3" r="3"/>
<circle cx="116.7" cy="314.3" r="3"/>
<circle cx="146.5" cy="314.3" r="3"/>
<circle cx="176.3" cy="314.3" r="3"/>
<circle cx="206.1" cy="314.3" r="3"/>
<circle cx="235.9" cy="314.3" r="3"/>
<circle cx="265.8" cy="314.3" r="3"/>
<circle cx="295.6" cy="314.3" r="3"/>
<circle cx="325.4" cy="314.3" r="3"/>
<circle cx="355.2" cy="314.3" r="3"/>
<circle cx="385" cy="314.3" r="3"/>
<circle cx="414.8" cy="314.3" r="3"/>
<circle cx="444.6" cy="314.3" r="3"/>
<circle cx="474.4" cy="314.3" r="3"/>
<circle cx="504.2" cy="314.3" r="3"/>
<circle cx="534" cy="314.3" r="3"/>
<circle cx="563.9" cy="314.3" r="3"/>
<circle cx="593.7" cy="314.3" r="3"/>
<circle cx="623.5" cy="314.3" r="3"/>
<circle cx="86.9" cy="346.3" r="3"/>
<circle cx="116.7" cy="346.3" r="3"/>
<circle cx="146.5" cy="346.3" r="3"/>
<circle cx="176.3" cy="346.3" r="3"/>
<circle cx="206.1" cy="346.3" r="3"/>
<circle cx="235.9" cy="346.3" r="3"/>
<circle cx="265.8" cy="346.3" r="3"/>
<circle cx="295.6" cy="346.3" r="3"/>
<circle cx="325.4" cy="346.3" r="3"/>
<circle cx="355.2" cy="346.3" r="3"/>
<circle cx="385" cy="346.3" r="3"/>
<circle cx="414.8" cy="346.3" r="3"/>
<circle cx="444.6" cy="346.3" r="3"/>
<circle cx="474.4" cy="346.3" r="3"/>
<circle cx="504.2" cy="346.3" r="3"/>
<circle cx="534" cy="346.3" r="3"/>
<circle cx="563.9" cy="346.3" r="3"/>
<circle cx="593.7" cy="346.3" r="3"/>
<circle cx="623.5" cy="346.3" r="3"/>
<circle cx="86.9" cy="377.7" r="3"/>
<circle cx="116.7" cy="377.7" r="3"/>
<circle cx="146.5" cy="377.7" r="3"/>
<circle cx="176.3" cy="377.7" r="3"/>
<circle cx="206.1" cy="377.7" r="3"/>
<circle cx="235.9" cy="377.7" r="3"/>
<circle cx="265.8" cy="377.7" r="3"/>
<circle cx="295.6" cy="377.7" r="3"/>
<circle cx="325.4" cy="377.7" r="3"/>
<circle cx="355.2" cy="377.7" r="3"/>
<circle cx="385" cy="377.7" r="3"/>
<circle cx="414.8" cy="377.7" r="3"/>
<circle cx="444.6" cy="377.7" r="3"/>
<circle cx="474.4" cy="377.7" r="3"/>
<circle cx="504.2" cy="377.7" r="3"/>
<circle cx="534" cy="377.7" r="3"/>
<circle cx="563.9" cy="377.7" r="3"/>
<circle cx="593.7" cy="377.7" r="3"/>
<circle cx="623.5" cy="377.7" r="3"/>
<circle cx="86.9" cy="409.8" r="3"/>
<circle cx="116.7" cy="409.8" r="3"/>
<circle cx="146.5" cy="409.8" r="3"/>
<circle cx="176.3" cy="409.8" r="3"/>
<circle cx="206.1" cy="409.8" r="3"/>
<circle cx="235.9" cy="409.8" r="3"/>
<circle cx="265.8" cy="409.8" r="3"/>
<circle cx="295.6" cy="409.8" r="3"/>
<circle cx="325.4" cy="409.8" r="3"/>
<circle cx="355.2" cy="409.8" r="3"/>
<circle cx="385" cy="409.8" r="3"/>
<circle cx="414.8" cy="409.8" r="3"/>
<circle cx="444.6" cy="409.8" r="3"/>
<circle cx="474.4" cy="409.8" r="3"/>
<circle cx="504.2" cy="409.8" r="3"/>
<circle cx="534" cy="409.8" r="3"/>
<circle cx="563.9" cy="409.8" r="3"/>
<circle cx="593.7" cy="409.8" r="3"/>
<circle cx="623.5" cy="409.8" r="3"/>
<circle cx="86.9" cy="441.8" r="3"/>
<circle cx="116.7" cy="441.8" r="3"/>
<circle cx="146.5" cy="441.8" r="3"/>
<circle cx="176.3" cy="441.8" r="3"/>
<circle cx="206.1" cy="441.8" r="3"/>
<circle cx="235.9" cy="441.8" r="3"/>
<circle cx="265.8" cy="441.8" r="3"/>
<circle cx="295.6" cy="441.8" r="3"/>
<circle cx="325.4" cy="441.8" r="3"/>
<circle cx="355.2" cy="441.8" r="3"/>
<circle cx="385" cy="441.8" r="3"/>
<circle cx="414.8" cy="441.8" r="3"/>
<circle cx="444.6" cy="441.8" r="3"/>
<circle cx="474.4" cy="441.8" r="3"/>
<circle cx="504.2" cy="441.8" r="3"/>
<circle cx="534" cy="441.8" r="3"/>
<circle cx="563.9" cy="441.8" r="3"/>
<circle cx="593.7" cy="441.8" r="3"/>
<circle cx="623.5" cy="441.8" r="3"/>
<circle cx="86.9" cy="474.3" r="3"/>
<circle cx="116.7" cy="474.3" r="3"/>
<circle cx="146.5" cy="474.3" r="3"/>
<circle cx="176.3" cy="474.3" r="3"/>
<circle cx="206.1" cy="474.3" r="3"/>
<circle cx="235.9" cy="474.3" r="3"/>
<circle cx="265.8" cy="474.3" r="3"/>
<circle cx="295.6" cy="474.3" r="3"/>
<circle cx="325.4" cy="474.3" r="3"/>
<circle cx="355.2" cy="474.3" r="3"/>
<circle cx="385" cy="474.3" r="3"/>
<circle cx="414.8" cy="474.3" r="3"/>
<circle cx="444.6" cy="474.3" r="3"/>
<circle cx="474.4" cy="474.3" r="3"/>
<circle cx="504.2" cy="474.3" r="3"/>
<circle cx="534" cy="474.3" r="3"/>
<circle cx="563.9" cy="474.3" r="3"/>
<circle cx="593.7" cy="474.3" r="3"/>
<circle cx="623.5" cy="474.3" r="3"/>
<circle cx="86.9" cy="506.4" r="3"/>
<circle cx="116.7" cy="506.4" r="3"/>
<circle cx="146.5" cy="506.4" r="3"/>
<circle cx="176.3" cy="506.4" r="3"/>
<circle cx="206.1" cy="506.4" r="3"/>
<circle cx="235.9" cy="506.4" r="3"/>
<circle cx="265.8" cy="506.4" r="3"/>
<circle cx="295.6" cy="506.4" r="3"/>
<circle cx="325.4" cy="506.4" r="3"/>
<circle cx="355.2" cy="506.4" r="3"/>
<circle cx="385" cy="506.4" r="3"/>
<circle cx="414.8" cy="506.4" r="3"/>
<circle cx="444.6" cy="506.4" r="3"/>
<circle cx="474.4" cy="506.4" r="3"/>
<circle cx="504.2" cy="506.4" r="3"/>
<circle cx="534" cy="506.4" r="3"/>
<circle cx="563.9" cy="506.4" r="3"/>
<circle cx="593.7" cy="506.4" r="3"/>
<circle cx="623.5" cy="506.4" r="3"/>
</g>
<rect x="507" y="510.9" width="127.9" height="14.8" fill="#3d3d47"/>
<text x="507.8" y="521.8" font-size="11.3" style="fill:#fff" textLength="123" lengthAdjust="spacingAndGlyphs">Copyright metvuw.com</text>
<path d="M534.3 506.4L567.5 528.5" stroke="#000" stroke-width="1" fill="none"/>
<rect x="72" y="104.3" width="566.9" height="424.5" fill="none" stroke="#000" stroke-width="2"/>
<text class="ax" x="116.7" y="93.9" text-anchor="middle">163<tspan font-size="10.5" dx="0.15" dy="-3.8">°</tspan><tspan dx="0.35" dy="3.8">W</tspan></text>
<text class="ax" x="116.7" y="551.5" text-anchor="middle">163<tspan font-size="10.5" dx="0.15" dy="-3.8">°</tspan><tspan dx="0.35" dy="3.8">W</tspan></text>
<text class="ax" x="176.3" y="93.9" text-anchor="middle">162<tspan font-size="10.5" dx="0.15" dy="-3.8">°</tspan><tspan dx="0.35" dy="3.8">W</tspan></text>
<text class="ax" x="176.3" y="551.5" text-anchor="middle">162<tspan font-size="10.5" dx="0.15" dy="-3.8">°</tspan><tspan dx="0.35" dy="3.8">W</tspan></text>
<text class="ax" x="236" y="93.9" text-anchor="middle">161<tspan font-size="10.5" dx="0.15" dy="-3.8">°</tspan><tspan dx="0.35" dy="3.8">W</tspan></text>
<text class="ax" x="236" y="551.5" text-anchor="middle">161<tspan font-size="10.5" dx="0.15" dy="-3.8">°</tspan><tspan dx="0.35" dy="3.8">W</tspan></text>
<text class="ax" x="295.6" y="93.9" text-anchor="middle">160<tspan font-size="10.5" dx="0.15" dy="-3.8">°</tspan><tspan dx="0.35" dy="3.8">W</tspan></text>
<text class="ax" x="295.6" y="551.5" text-anchor="middle">160<tspan font-size="10.5" dx="0.15" dy="-3.8">°</tspan><tspan dx="0.35" dy="3.8">W</tspan></text>
<text class="ax" x="355.2" y="93.9" text-anchor="middle">159<tspan font-size="10.5" dx="0.15" dy="-3.8">°</tspan><tspan dx="0.35" dy="3.8">W</tspan></text>
<text class="ax" x="355.2" y="551.5" text-anchor="middle">159<tspan font-size="10.5" dx="0.15" dy="-3.8">°</tspan><tspan dx="0.35" dy="3.8">W</tspan></text>
<text class="ax" x="414.9" y="93.9" text-anchor="middle">158<tspan font-size="10.5" dx="0.15" dy="-3.8">°</tspan><tspan dx="0.35" dy="3.8">W</tspan></text>
<text class="ax" x="414.9" y="551.5" text-anchor="middle">158<tspan font-size="10.5" dx="0.15" dy="-3.8">°</tspan><tspan dx="0.35" dy="3.8">W</tspan></text>
<text class="ax" x="474.5" y="93.9" text-anchor="middle">157<tspan font-size="10.5" dx="0.15" dy="-3.8">°</tspan><tspan dx="0.35" dy="3.8">W</tspan></text>
<text class="ax" x="474.5" y="551.5" text-anchor="middle">157<tspan font-size="10.5" dx="0.15" dy="-3.8">°</tspan><tspan dx="0.35" dy="3.8">W</tspan></text>
<text class="ax" x="534.1" y="93.9" text-anchor="middle">156<tspan font-size="10.5" dx="0.15" dy="-3.8">°</tspan><tspan dx="0.35" dy="3.8">W</tspan></text>
<text class="ax" x="534.1" y="551.5" text-anchor="middle">156<tspan font-size="10.5" dx="0.15" dy="-3.8">°</tspan><tspan dx="0.35" dy="3.8">W</tspan></text>
<text class="ax" x="593.7" y="93.9" text-anchor="middle">155<tspan font-size="10.5" dx="0.15" dy="-3.8">°</tspan><tspan dx="0.35" dy="3.8">W</tspan></text>
<text class="ax" x="593.7" y="551.5" text-anchor="middle">155<tspan font-size="10.5" dx="0.15" dy="-3.8">°</tspan><tspan dx="0.35" dy="3.8">W</tspan></text>
<text class="ax" x="62" y="162.9" text-anchor="end">18<tspan font-size="10.5" dx="0.25" dy="-3.8">°</tspan><tspan dx="1.65" dy="3.8">S</tspan></text>
<text class="ax" x="649.6" y="162.9">18<tspan font-size="10.5" dx="0.25" dy="-3.8">°</tspan><tspan dx="1.65" dy="3.8">S</tspan></text>
<text class="ax" x="62" y="225.2" text-anchor="end">19<tspan font-size="10.5" dx="0.25" dy="-3.8">°</tspan><tspan dx="1.65" dy="3.8">S</tspan></text>
<text class="ax" x="649.6" y="225.2">19<tspan font-size="10.5" dx="0.25" dy="-3.8">°</tspan><tspan dx="1.65" dy="3.8">S</tspan></text>
<text class="ax" x="62" y="287.8" text-anchor="end">20<tspan font-size="10.5" dx="0.25" dy="-3.8">°</tspan><tspan dx="1.65" dy="3.8">S</tspan></text>
<text class="ax" x="649.6" y="287.8">20<tspan font-size="10.5" dx="0.25" dy="-3.8">°</tspan><tspan dx="1.65" dy="3.8">S</tspan></text>
<text class="ax" x="62" y="351.8" text-anchor="end">21<tspan font-size="10.5" dx="0.25" dy="-3.8">°</tspan><tspan dx="1.65" dy="3.8">S</tspan></text>
<text class="ax" x="649.6" y="351.8">21<tspan font-size="10.5" dx="0.25" dy="-3.8">°</tspan><tspan dx="1.65" dy="3.8">S</tspan></text>
<text class="ax" x="62" y="415.2" text-anchor="end">22<tspan font-size="10.5" dx="0.25" dy="-3.8">°</tspan><tspan dx="1.65" dy="3.8">S</tspan></text>
<text class="ax" x="649.6" y="415.2">22<tspan font-size="10.5" dx="0.25" dy="-3.8">°</tspan><tspan dx="1.65" dy="3.8">S</tspan></text>
<text class="ax" x="62" y="479.8" text-anchor="end">23<tspan font-size="10.5" dx="0.25" dy="-3.8">°</tspan><tspan dx="1.65" dy="3.8">S</tspan></text>
<text class="ax" x="649.6" y="479.8">23<tspan font-size="10.5" dx="0.25" dy="-3.8">°</tspan><tspan dx="1.65" dy="3.8">S</tspan></text>
<path d="M116.7 103.3V98.8M116.7 529.8V534.3M176.3 103.3V98.8M176.3 529.8V534.3M236 103.3V98.8M236 529.8V534.3M295.6 103.3V98.8M295.6 529.8V534.3M355.2 103.3V98.8M355.2 529.8V534.3M414.9 103.3V98.8M414.9 529.8V534.3M474.5 103.3V98.8M474.5 529.8V534.3M534.1 103.3V98.8M534.1 529.8V534.3M593.7 103.3V98.8M593.7 529.8V534.3M71 157.5H66.5M639.9 157.5H644.4M71 219.8H66.5M639.9 219.8H644.4M71 282.3H66.5M639.9 282.3H644.4M71 346.4H66.5M639.9 346.4H644.4M71 409.8H66.5M639.9 409.8H644.4M71 474.4H66.5M639.9 474.4H644.4" stroke="#333" stroke-width="1" fill="none"/>
</svg></body></html>
